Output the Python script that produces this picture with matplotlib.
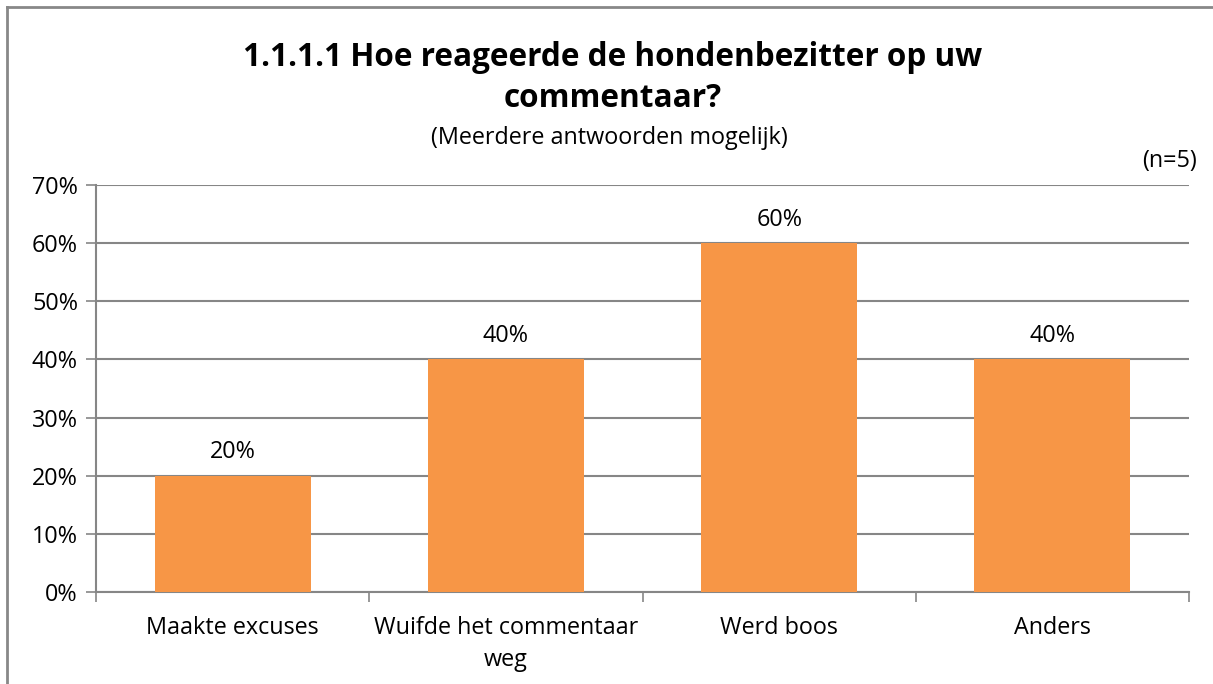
import matplotlib.pyplot as plt
from matplotlib.lines import Line2D

# Data
categories = ['Maakte excuses', 'Wuifde het commentaar\nweg', 'Werd boos', 'Anders']
values = [20, 40, 60, 40]
y_ticks = [0, 10, 20, 30, 40, 50, 60, 70]

BAR_COLOR = '#F79646'
GRID_COLOR = '#868686'
FS = 16.8
plt.rcParams['font.family'] = ['Open Sans', 'DejaVu Sans']

fig = plt.figure(figsize=(12.13, 6.84), dpi=100)
ax = fig.add_axes([96 / 1213, 1 - 592 / 684, (1189 - 96) / 1213, (592 - 185) / 684])

x = list(range(len(categories)))
ax.bar(x, values, width=0.57, color=BAR_COLOR, zorder=3)

for xi, v in zip(x, values):
    ax.text(xi, v + 2.0, f'{v}%', ha='center', va='bottom', fontsize=FS, color='#000000')

ax.set_xlim(-0.5, len(categories) - 0.5)
ax.set_ylim(0, 70)
ax.set_yticks(y_ticks)
ax.set_yticklabels([f'{t}%' for t in y_ticks], fontsize=FS)
ax.yaxis.grid(True, color=GRID_COLOR, linewidth=1.5, zorder=0)
ax.tick_params(axis='y', length=7, width=1.2, color=GRID_COLOR, pad=6)

# category labels centred, ticks at category boundaries
ax.set_xticks([i - 0.5 for i in range(len(categories) + 1)])
ax.set_xticklabels([])
ax.set_xticks(x, minor=True)
ax.set_xticklabels(categories, minor=True, fontsize=FS, linespacing=1.45)
ax.tick_params(axis='x', which='major', length=7, width=1.2, color=GRID_COLOR)
ax.tick_params(axis='x', which='minor', length=0, pad=17)

for side in ['top', 'right']:
    ax.spines[side].set_visible(False)
ax.spines['left'].set_color(GRID_COLOR)
ax.spines['bottom'].set_color(GRID_COLOR)
ax.spines['left'].set_linewidth(1.5)
ax.spines['bottom'].set_linewidth(1.5)

fig.text(613 / 1213, 1 - 78 / 684, '1.1.1.1 Hoe reageerde de hondenbezitter op uw\ncommentaar?',
         ha='center', va='center', fontsize=22.7, fontweight='bold', linespacing=1.3)
fig.text(609 / 1213, 1 - 138 / 684, '(Meerdere antwoorden mogelijk)', ha='center', va='center', fontsize=FS)
fig.text(1197 / 1213, 1 - 161 / 684, '(n=5)', ha='right', va='center', fontsize=FS)

# chart frame (left and top edge only)
fig.add_artist(Line2D([7 / 1213, 7 / 1213], [0, 1 - 7 / 684], transform=fig.transFigure, color='#888888', linewidth=2))
fig.add_artist(Line2D([7 / 1213, 1], [1 - 7 / 684, 1 - 7 / 684], transform=fig.transFigure, color='#888888', linewidth=2))

fig.savefig('out.png', dpi=100)
